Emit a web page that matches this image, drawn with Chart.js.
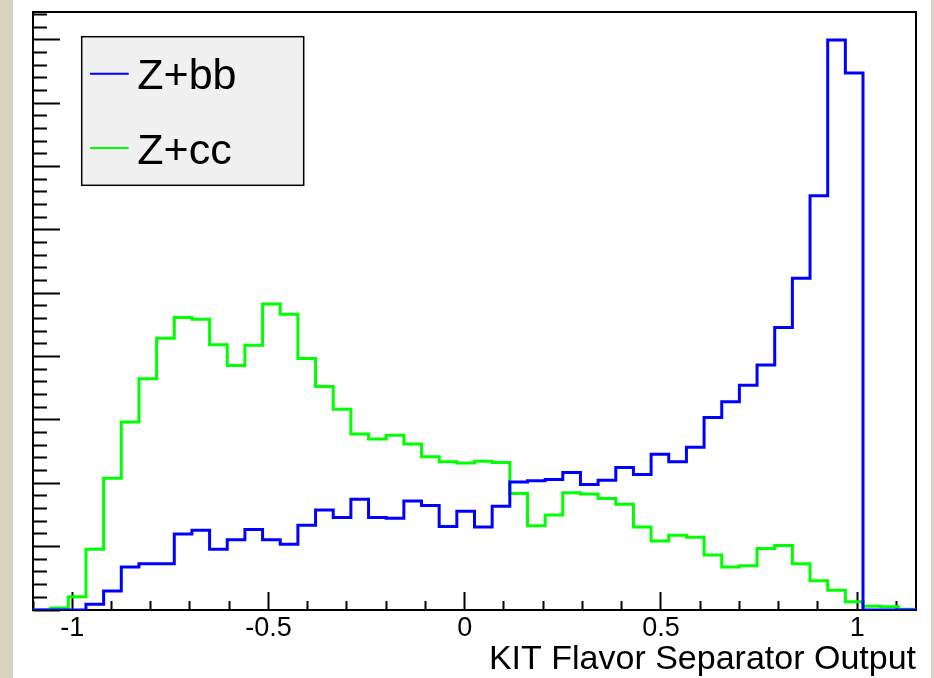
<!DOCTYPE html>
<html>
<head>
<meta charset="utf-8">
<script src="https://cdn.jsdelivr.net/npm/chart.js@4"></script>
<style>
html,body{margin:0;padding:0;width:934px;height:678px;overflow:hidden;background:#d7d5bf;}
#wrap{position:absolute;left:13px;top:0;width:918px;height:678px;background:#ffffff;}
canvas{display:block;}
</style>
</head>
<body>
<div id="wrap"><canvas id="c" width="918" height="678"></canvas></div>
<script>
// ---- data ----
const binEdges = [-1.1, -1.055, -1.01, -0.965, -0.92, -0.875, -0.83, -0.785, -0.74, -0.695,
  -0.65, -0.605, -0.56, -0.515, -0.47, -0.425, -0.38, -0.335, -0.29, -0.245,
  -0.2, -0.155, -0.11, -0.065, -0.02, 0.025, 0.07, 0.115, 0.16, 0.205,
  0.25, 0.295, 0.34, 0.385, 0.43, 0.475, 0.52, 0.565, 0.61, 0.655,
  0.7, 0.745, 0.79, 0.835, 0.88, 0.925, 0.97, 1.015, 1.06, 1.105, 1.15];

const zbbCounts = [0, 0, 0, 0.09, 0.30, 0.68, 0.73, 0.73, 1.20, 1.26,
  0.96, 1.11, 1.27, 1.11, 1.04, 1.34, 1.58, 1.46, 1.75, 1.46,
  1.45, 1.72, 1.65, 1.32, 1.56, 1.31, 1.64, 2.02, 2.04, 2.06,
  2.17, 1.98, 2.05, 2.25, 2.14, 2.46, 2.34, 2.57, 3.04, 3.29,
  3.55, 3.87, 4.46, 5.24, 6.54, 9.00, 8.48, 0, 0, 0];

const zccCounts = [0, 0.03, 0.21, 0.96, 2.08, 2.97, 3.65, 4.29, 4.62, 4.59,
  4.19, 3.86, 4.18, 4.83, 4.67, 3.97, 3.53, 3.17, 2.78, 2.70,
  2.76, 2.62, 2.42, 2.34, 2.32, 2.35, 2.33, 1.84, 1.33, 1.50,
  1.85, 1.83, 1.76, 1.67, 1.31, 1.09, 1.18, 1.15, 0.87, 0.68,
  0.70, 0.97, 1.02, 0.73, 0.46, 0.31, 0.13, 0.06, 0.05, 0.01];

const seriesNames = ['Z+bb', 'Z+cc'];
const seriesColors = ['#0000ff', '#00ff00'];
const xMajorTicks = [-1, -0.5, 0, 0.5, 1];
const xTickLabels = ['-1', '-0.5', '0', '0.5', '1'];
const xAxisTitle = 'KIT Flavor Separator Output';

// ---- build ----
const FONT = '"Liberation Sans", Arial, Helvetica, sans-serif';
function histPoints(counts) {
  return binEdges.map((x, i) => ({ x: x, y: counts[Math.min(i, counts.length - 1)] }));
}
function majorIndex(v) {
  return xMajorTicks.findIndex(m => Math.abs(m - v) < 1e-6);
}

const framePlugin = {
  id: 'rootFrame',
  beforeDatasetsDraw(chart) {
    const { ctx, chartArea: a } = chart;
    ctx.save();
    ctx.strokeStyle = '#000';
    ctx.lineWidth = 2;
    ctx.strokeRect(a.left, a.top, a.right - a.left, a.bottom - a.top);
    ctx.restore();
  }
};

const legendPlugin = {
  id: 'rootLegend',
  afterDatasetsDraw(chart, args, o) {
    const { ctx, chartArea: a } = chart;
    const x0 = a.left + o.offsetX, y0 = a.top + o.offsetY;
    ctx.save();
    ctx.fillStyle = '#f0f0f0';
    ctx.fillRect(x0, y0, o.width, o.height);
    ctx.strokeStyle = '#000';
    ctx.lineWidth = 1.5;
    ctx.strokeRect(x0, y0, o.width, o.height);
    chart.data.datasets.forEach((ds, i) => {
      const cy = y0 + o.firstRow + i * o.rowGap;
      ctx.strokeStyle = ds.borderColor;
      ctx.lineWidth = 2;
      ctx.beginPath();
      ctx.moveTo(x0 + o.lineX0, cy);
      ctx.lineTo(x0 + o.lineX1, cy);
      ctx.stroke();
      ctx.fillStyle = '#000';
      ctx.font = o.fontSize + 'px ' + FONT;
      ctx.textBaseline = 'alphabetic';
      ctx.textAlign = 'left';
      ctx.fillText(ds.label, x0 + o.textX, cy + o.baseline);
    });
    ctx.restore();
  }
};

new Chart(document.getElementById('c'), {
  type: 'line',
  data: {
    datasets: [
      { label: seriesNames[0], data: histPoints(zbbCounts), borderColor: seriesColors[0],
        borderWidth: 3, stepped: 'before', pointRadius: 0, fill: false, tension: 0 },
      { label: seriesNames[1], data: histPoints(zccCounts), borderColor: seriesColors[1],
        borderWidth: 3, stepped: 'before', pointRadius: 0, fill: false, tension: 0 }
    ]
  },
  plugins: [framePlugin, legendPlugin],
  options: {
    responsive: false,
    animation: false,
    events: [],
    layout: { padding: { left: 20, right: 15, top: 12, bottom: 0 } },
    plugins: {
      legend: { display: false },
      tooltip: { enabled: false },
      rootLegend: { offsetX: 48.7, offsetY: 24.7, width: 222, height: 148.6,
        firstRow: 37, rowGap: 74.3, lineX0: 8.3, lineX1: 47, textX: 55.6, baseline: 15.5, fontSize: 43 }
    },
    scales: {
      x: {
        type: 'linear', min: -1.1, max: 1.15,
        afterFit: s => { s.height = 68; },
        border: { display: false },
        grid: {
          display: true, drawOnChartArea: false, drawTicks: true,
          tickLength: -18, tickWidth: 2, tickColor: '#000',
          tickBorderDash: c => (majorIndex(c.tick.value) >= 0 ? [] : [9, 100])
        },
        ticks: {
          stepSize: 0.1, includeBounds: false, autoSkip: false, maxRotation: 0, minRotation: 0,
          padding: 20, color: '#000', font: { family: FONT, size: 27 },
          callback: v => { const k = majorIndex(v); return k >= 0 ? xTickLabels[k] : ''; }
        },
        title: { display: true, text: xAxisTitle, align: 'end', color: '#000',
          font: { family: FONT, size: 34, lineHeight: 1.1 }, padding: { top: 0, bottom: 0 } }
      },
      y: {
        type: 'linear', min: 0, max: 9.442,
        afterFit: s => { s.width = 0; },
        border: { display: false },
        grid: {
          display: true, drawOnChartArea: false, drawTicks: true,
          tickLength: -27, tickWidth: 2, tickColor: '#000',
          tickBorderDash: c => (Math.abs(c.tick.value - Math.round(c.tick.value)) < 1e-6 ? [] : [0, 13, 14, 100])
        },
        ticks: { display: false, stepSize: 0.2, includeBounds: false }
      }
    }
  }
});
</script>
</body>
</html>
